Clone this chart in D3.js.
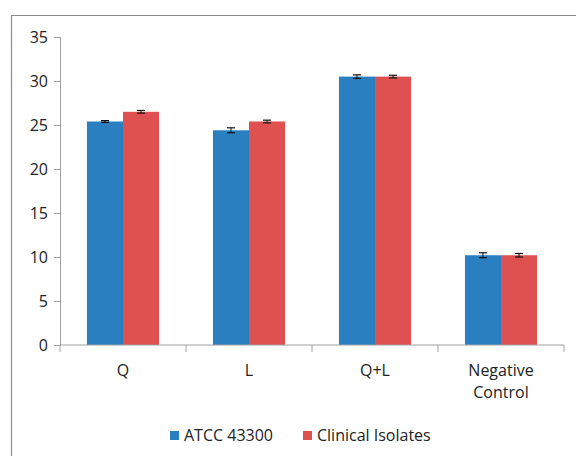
<!DOCTYPE html>
<html>
<head>
<meta charset="utf-8">
<script src="https://cdn.jsdelivr.net/npm/d3@7"></script>
<style>
  body { margin: 0; background: #fff; }
  svg text { font-family: "Open Sans", "Noto Sans", sans-serif; fill: #222; }
</style>
</head>
<body>
<div id="chart"></div>
<script>
const categories = ["Q", "L", "Q+L", "Negative Control"];
const seriesNames = ["ATCC 43300", "Clinical Isolates"];
const atccValues = [25.4, 24.4, 30.5, 10.2];
const clinicalValues = [26.5, 25.4, 30.5, 10.2];
const atccErrors = [0.1, 0.28, 0.2, 0.28];
const clinicalErrors = [0.15, 0.15, 0.15, 0.2];
const yTicks = [0, 5, 10, 15, 20, 25, 30, 35];
const colors = ["#2a7fc1", "#df5050"];

const width = 576, height = 456;
const margin = { top: 37, right: 12, bottom: 111, left: 60 };
const innerW = width - margin.left - margin.right;
const innerH = height - margin.top - margin.bottom;
const fontSize = "16px";

const svg = d3.select("#chart").append("svg")
  .attr("width", width)
  .attr("height", height);

// outer frame (partly cut off at right/bottom)
svg.append("path")
  .attr("d", `M11.5,${height} V15.5 H${width}`)
  .attr("fill", "none")
  .attr("stroke", "#8c8c8c")
  .attr("stroke-width", 1.2);

const g = svg.append("g").attr("transform", `translate(${margin.left},${margin.top})`);

const x = d3.scaleBand().domain(categories).range([0, innerW]).paddingInner(0).paddingOuter(0);
const y = d3.scaleLinear().domain([0, 35]).range([innerH, 0]);

const data = categories.map((c, i) => ({
  cat: c,
  vals: [
    { s: 0, v: atccValues[i], e: atccErrors[i] },
    { s: 1, v: clinicalValues[i], e: clinicalErrors[i] }
  ]
}));

const barW = x.bandwidth() * 0.286;
const groupOffset = (x.bandwidth() - barW * 2) / 2;

const groups = g.selectAll(".grp").data(data).enter().append("g")
  .attr("class", "grp")
  .attr("transform", d => `translate(${x(d.cat) + groupOffset},0)`);

groups.selectAll("rect").data(d => d.vals).enter().append("rect")
  .attr("x", d => d.s * barW)
  .attr("y", d => y(d.v))
  .attr("width", barW)
  .attr("height", d => innerH - y(d.v))
  .attr("fill", d => colors[d.s]);

// error bars
const err = groups.selectAll(".err").data(d => d.vals).enter().append("g").attr("class", "err");
err.append("line")
  .attr("x1", d => d.s * barW + barW / 2).attr("x2", d => d.s * barW + barW / 2)
  .attr("y1", d => y(d.v + d.e)).attr("y2", d => y(d.v - d.e))
  .attr("stroke", "#111").attr("stroke-width", 1);
[1, -1].forEach(sign => {
  err.append("line")
    .attr("x1", d => d.s * barW + barW / 2 - 4).attr("x2", d => d.s * barW + barW / 2 + 4)
    .attr("y1", d => y(d.v + sign * d.e)).attr("y2", d => y(d.v + sign * d.e))
    .attr("stroke", "#111").attr("stroke-width", 1.2);
});

// y axis
const yAxis = g.append("g")
  .call(d3.axisLeft(y).tickValues(yTicks).tickSize(6).tickPadding(6));
yAxis.select(".domain").attr("stroke", "#a0a0a0");
yAxis.selectAll(".tick line").attr("stroke", "#a0a0a0");
yAxis.selectAll("text").style("font-size", fontSize).attr("fill", "#222");

// x axis baseline and category dividers
g.append("line")
  .attr("x1", 0).attr("x2", innerW)
  .attr("y1", innerH).attr("y2", innerH)
  .attr("stroke", "#a0a0a0");
const bounds = categories.map(c => x(c)).concat([innerW]);
g.selectAll(".divider").data(bounds).enter().append("line")
  .attr("x1", d => d).attr("x2", d => d)
  .attr("y1", innerH).attr("y2", innerH + 7)
  .attr("stroke", "#a0a0a0");

// category labels
const labels = g.selectAll(".cat").data(categories).enter().append("text")
  .attr("text-anchor", "middle")
  .attr("x", d => x(d) + x.bandwidth() / 2)
  .attr("y", innerH + 31)
  .style("font-size", fontSize);
labels.each(function (d) {
  const words = d.split(" ");
  const t = d3.select(this);
  words.forEach((w, i) => {
    t.append("tspan")
      .attr("x", x(d) + x.bandwidth() / 2)
      .attr("dy", i === 0 ? 0 : 22)
      .text(w);
  });
});

// legend
const legendX = [170, 303];
const legend = svg.selectAll(".leg").data(seriesNames).enter().append("g")
  .attr("transform", (d, i) => `translate(${legendX[i]},431)`);
legend.append("rect")
  .attr("width", 9).attr("height", 9)
  .attr("fill", (d, i) => colors[i]);
legend.append("text")
  .attr("x", 14).attr("y", 10)
  .style("font-size", fontSize)
  .text(d => d);
</script>
</body>
</html>
